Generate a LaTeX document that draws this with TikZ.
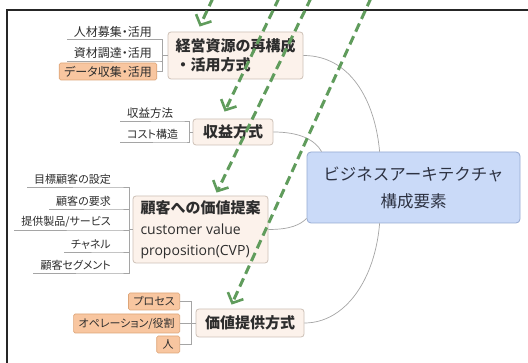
\documentclass[tikz,border=0pt]{standalone}
\usepackage{fontspec}
\setmainfont{Noto Sans CJK JP}
\newfontfamily\jp{Noto Sans CJK JP}
\newfontfamily\jpp[RawFeature=+palt]{Noto Sans CJK JP}
\newfontfamily\lat{Open Sans}
\usetikzlibrary{arrows.meta}
\definecolor{txt}{RGB}{45,45,45}
\definecolor{ctxt}{RGB}{45,50,66}
\definecolor{topicfill}{RGB}{252,242,235}
\definecolor{topicborder}{RGB}{205,192,182}
\definecolor{cfill}{RGB}{202,218,248}
\definecolor{cborder}{RGB}{150,170,210}
\definecolor{ofill}{RGB}{248,198,160}
\definecolor{oborder}{RGB}{222,165,120}
\definecolor{connc}{RGB}{165,165,165}
\definecolor{gr}{RGB}{96,156,92}
\tikzset{
  topic/.style={draw=topicborder, fill=topicfill, rounded corners=3pt, text=txt, line width=0.8pt, inner sep=0pt},
  topicfont/.style={font=\jp\bfseries\fontsize{15}{19}\selectfont},
  central/.style={draw=cborder, fill=cfill, rounded corners=4pt, text=ctxt, line width=0.8pt, align=center,
    font=\jp\fontsize{16.5}{27}\selectfont, minimum width=213pt, minimum height=71pt},
  leaf/.style={text=txt, inner xsep=7pt, inner ysep=2pt},
  obox/.style={draw=oborder, fill=ofill, text=txt, rounded corners=1.5pt, inner xsep=5pt, inner ysep=0pt,
    minimum height=17pt, line width=0.6pt},
  conn/.style={draw=connc, line width=0.7pt},
  garrow/.style={draw=gr, line width=3pt, dash pattern=on 9pt off 5pt,
    -{Straight Barb[length=8pt,width=17pt,line width=2.6pt]}},
  frameline/.style={draw=black!85, line width=2.5pt}
}
\begin{document}
\begin{tikzpicture}[x=1pt,y=-1pt]
\useasboundingbox (0,0) rectangle (528,363);
\fill[white] (0,0) rectangle (528,363);
\draw[frameline] (7,365) -- (7,10) -- (530,10);

% central node
\node[central] (c) at (413.5,187.5) {ビジネスアーキテクチャ\\構成要素};

% topics
\node[topic, topicfont, minimum width=135pt, minimum height=47pt, align=left] (t1) at (235.5,55.5) {経営資源の再構成\\・活用方式};
\node[topic, topicfont, minimum width=80pt, minimum height=26pt] (t2) at (233,132) {収益方式};
\node[topic, minimum width=135pt, minimum height=67pt, align=left, font=\fontsize{14}{21}\selectfont] (t3) at (200.5,229.5)
  {{\jp\bfseries\fontsize{15}{21}\selectfont 顧客への価値提案}\\{\lat customer value}\\{\lat proposition(CVP)}};
\node[topic, topicfont, minimum width=108pt, minimum height=28pt] (t4) at (250,323) {価値提供方式};

% central connectors
\draw[conn] (t1.east) .. controls (350,55.5) and (375,100) .. ([xshift=73pt]c.north west);
\draw[conn] (t2.east) .. controls (300,132) and (315,140) .. ([xshift=15pt]c.north west);
\draw[conn] (t3.east) .. controls (290,229.5) and (300,225) .. ([yshift=5pt]c.south west);
\draw[conn] ([xshift=73pt]c.south west) .. controls (375,280) and (345,323) .. (t4.east);

% group 1
\node[leaf, anchor=south east, font=\jpp\fontsize{12}{14}\selectfont] (l11) at (159,39.5) {人材募集・活用};
\node[leaf, anchor=south east, font=\jpp\fontsize{12}{14}\selectfont] (l12) at (159,61) {資材調達・活用};
\node[obox, font=\jpp\fontsize{12}{14}\selectfont] (l13) at (108,71.5) {データ収集・活用};
\coordinate (s1) at ([xshift=-5pt]t1.west);
\draw[conn] (t1.west) -- (s1);
\draw[conn] (s1) |- (l11.south east) -- (l11.south west);
\draw[conn] (s1) |- (l12.south east) -- (l12.south west);
\draw[conn] (s1) |- (l13.east);

% group 2
\node[leaf, anchor=south west, font=\jpp\fontsize{11.5}{13}\selectfont] (l21) at (120,121) {収益方法};
\node[leaf, anchor=south west, font=\jpp\fontsize{11}{13}\selectfont] (l22) at (120,142) {コスト構造};
\coordinate (s2) at ([xshift=-3pt]t2.west);
\draw[conn] (t2.west) -- (s2);
\draw[conn] (s2) |- (l21.south east) -- (l21.south west);
\draw[conn] (s2) |- (l22.south east) -- (l22.south west);

% group 3
\tikzset{leaf3/.style={leaf, anchor=south east, font=\jpp\fontsize{11}{13}\selectfont}}
\node[leaf3] (l31) at (118,187) {目標顧客の設定};
\node[leaf3] (l32) at (118,209) {顧客の要求};
\node[leaf3] (l33) at (118,230) {提供製品/サービス};
\node[leaf3] (l34) at (118,252) {チャネル};
\node[leaf3] (l35) at (118,273) {顧客セグメント};
\coordinate (s3) at ([xshift=-3pt]t3.west);
\draw[conn] (t3.west) -- (s3);
\foreach \n in {l31,l32,l33,l34,l35}
  \draw[conn] (s3) |- (\n.south east) -- (\n.south west);

% group 4
\tikzset{o4/.style={obox, anchor=east, font=\jpp\fontsize{11}{13}\selectfont}}
\node[o4] (l41) at (180,301.5) {プロセス};
\node[o4, minimum height=19pt] (l42) at (180,323.5) {オペレーション/役割};
\node[o4, minimum width=23pt] (l43) at (180,344.5) {人};
\coordinate (s4) at ([xshift=-4pt]t4.west);
\draw[conn] (t4.west) -- (s4);
\foreach \n in {l41,l42,l43}
  \draw[conn] (s4) |- (\n.east);

% green dashed arrows
\coordinate (a1) at (213,-2);
\coordinate (a2) at (279,-2);
\coordinate (a3) at (311,-2);
\coordinate (a4) at (371,-2);
\draw[garrow] (a1) -- ([xshift=32pt,yshift=5pt]t1.north west);
\draw[garrow] (a2) -- ([xshift=32pt,yshift=7pt]t2.north west);
\draw[garrow] (a3) -- ([xshift=84pt,yshift=3pt]t3.north west);
\draw[garrow] (a4) -- ([xshift=36pt,yshift=4pt]t4.north west);
\end{tikzpicture}
\end{document}
